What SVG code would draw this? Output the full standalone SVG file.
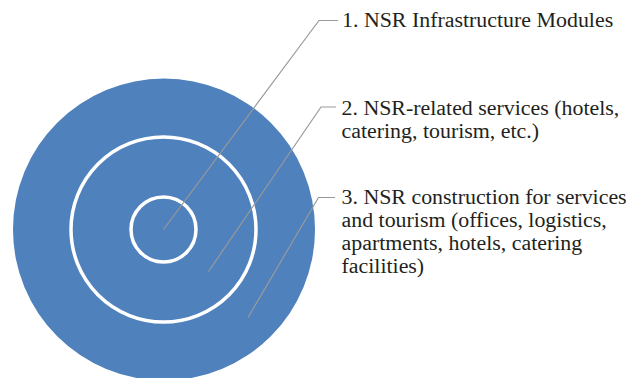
<svg xmlns="http://www.w3.org/2000/svg" width="642" height="378" viewBox="0 0 642 378">
<style>
.ring{fill:none;stroke:#fff;stroke-width:3.5}
.lead{fill:none;stroke:#999;stroke-width:1.2}
text{font-family:"Liberation Serif","Times New Roman",serif;font-size:21.9px;fill:#231f20}
</style>
<rect width="642" height="378" fill="#fff"/>
<g id="outer"><circle cx="164" cy="229.5" r="151" fill="#4f81bd"/></g>
<g id="middle"><circle class="ring" cx="163.5" cy="229.5" r="92.5"/></g>
<g id="inner"><circle class="ring" cx="163.5" cy="229.5" r="32.5"/></g>
<g id="connectors">
<polyline class="lead" points="163.5,229.5 319,20.5 338,20.5"/>
<polyline class="lead" points="208.5,271.5 321,107 336,107"/>
<polyline class="lead" points="248,317.5 318.5,197.5 335,197.5"/>
</g>
<g id="label1"><text x="342" y="26.5">1. NSR Infrastructure Modules</text></g>
<g id="label2"><text x="341.5" y="115">2. NSR-related services (hotels,<tspan x="341.5" y="138.4">catering, tourism, etc.)</tspan></text></g>
<g id="label3"><text x="341.5" y="203.5">3. NSR construction for services<tspan x="341.5" y="226.8">and tourism (offices, logistics,</tspan><tspan x="341.5" y="250.1">apartments, hotels, catering</tspan><tspan x="341.5" y="273.4">facilities)</tspan></text></g>
</svg>
